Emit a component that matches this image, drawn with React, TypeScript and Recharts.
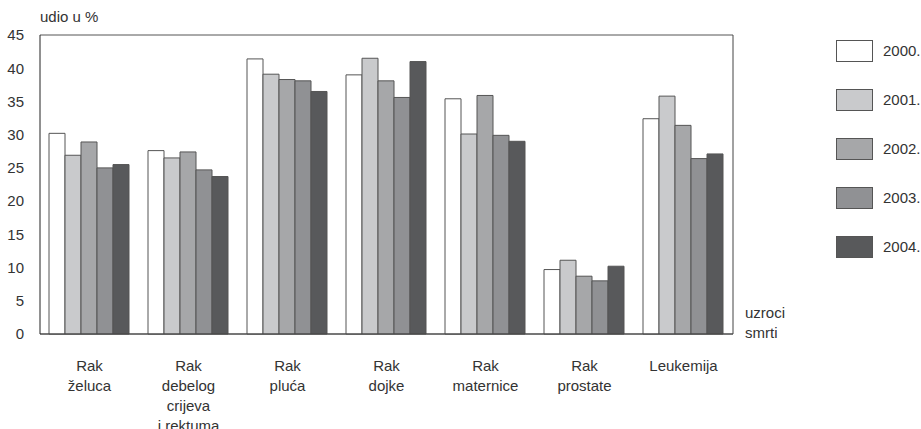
import React from 'react'
import { BarChart, Bar, XAxis, YAxis, CartesianGrid, Legend } from 'recharts'

const categories = [
  'Rak|želuca',
  'Rak|debelog|crijeva|i rektuma',
  'Rak|pluća',
  'Rak|dojke',
  'Rak|maternice',
  'Rak|prostate',
  'Leukemija',
]
const years = ['2000.', '2001.', '2002.', '2003.', '2004.']
const v2000 = [30.2, 27.6, 41.4, 39.0, 35.4, 9.7, 32.4]
const v2001 = [26.9, 26.5, 39.1, 41.5, 30.1, 11.1, 35.8]
const v2002 = [28.9, 27.4, 38.3, 38.1, 35.9, 8.7, 31.4]
const v2003 = [25.0, 24.7, 38.1, 35.6, 29.9, 8.0, 26.4]
const v2004 = [25.5, 23.7, 36.5, 41.0, 29.0, 10.2, 27.1]
const yTicks = [0, 5, 10, 15, 20, 25, 30, 35, 40, 45]

const colors = ['#ffffff', '#c9cacc', '#a6a7a9', '#909194', '#58595b']
const series = [v2000, v2001, v2002, v2003, v2004]

const data = categories.map((c, i) => {
  const row: Record<string, string | number> = { name: c }
  years.forEach((y, k) => {
    row[y] = series[k][i]
  })
  return row
})

const font = '"Liberation Sans", Arial, sans-serif'
const textColor = '#333'

const CategoryTick = (props: any) => {
  const { x, y, payload } = props
  const lines = String(payload.value).split('|')
  return (
    <g transform={`translate(${x},${y})`}>
      {lines.map((l, i) => (
        <text
          key={i}
          x={0}
          y={29 + i * 20}
          textAnchor="middle"
          fill={textColor}
          fontSize={15}
          fontFamily={font}
        >
          {l}
        </text>
      ))}
    </g>
  )
}

const LegendBox = () => (
  <div style={{ fontFamily: font, fontSize: 15, color: textColor }}>
    {years.map((y, i) => (
      <div key={y} style={{ display: 'flex', alignItems: 'center', height: 49 }}>
        <div
          style={{
            width: 35,
            height: 20,
            background: colors[i],
            border: '1px solid #555',
            marginRight: 10,
          }}
        />
        <span>{y}</span>
      </div>
    ))}
  </div>
)

export default function App() {
  return (
    <div style={{ position: 'absolute', left: 0, top: 0, width: 921, height: 429, background: '#fff' }}>
      <BarChart
        width={921}
        height={429}
        data={data}
        margin={{ top: 35, right: 102, left: 0, bottom: 65 }}
        barCategoryGap={9}
        barGap={0}
      >
        <CartesianGrid vertical={false} stroke="#555" strokeWidth={1} />
        <XAxis
          dataKey="name"
          tick={<CategoryTick />}
          tickLine={false}
          axisLine={{ stroke: '#444' }}
          interval={0}
        />
        <YAxis
          yAxisId="left"
          domain={[0, 45]}
          ticks={yTicks}
          width={40}
          tickLine={false}
          axisLine={{ stroke: '#222' }}
          tick={{ fill: textColor, fontSize: 15, fontFamily: font, dx: -8 }}
          label={{ value: 'udio u %', content: () => (
            <text x={40} y={22} fill={textColor} fontSize={15} fontFamily={font}>udio u %</text>
          ) }}
        />
        <YAxis
          yAxisId="right"
          orientation="right"
          domain={[0, 45]}
          ticks={yTicks}
          width={1}
          tick={false}
          tickLine={false}
          axisLine={{ stroke: '#444' }}
          label={{ value: 'uzroci', content: () => (
            <g>
              <text x={745} y={318} fill={textColor} fontSize={15} fontFamily={font}>uzroci</text>
              <text x={745} y={338} fill={textColor} fontSize={15} fontFamily={font}>smrti</text>
            </g>
          ) }}
        />
        <Legend
          layout="vertical"
          verticalAlign="top"
          align="right"
          content={<LegendBox />}
          wrapperStyle={{ left: 836, top: 26, width: 85 }}
        />
        {years.map((y, i) => (
          <Bar
            key={y}
            yAxisId="left"
            dataKey={y}
            fill={colors[i]}
            stroke="#555"
            strokeWidth={1}
            isAnimationActive={false}
          />
        ))}
      </BarChart>
    </div>
  )
}
